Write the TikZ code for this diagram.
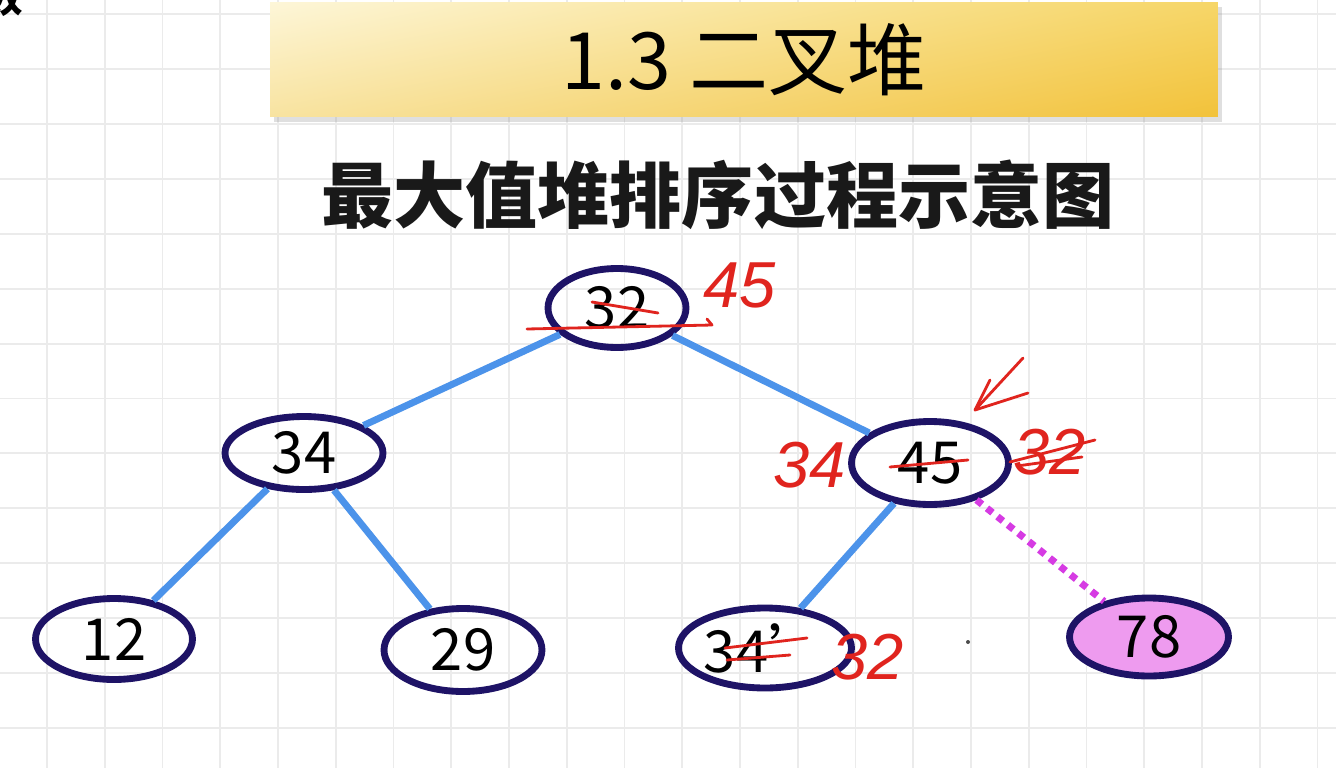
\documentclass[tikz,border=0pt]{standalone}
\usepackage{fontspec}
\setmainfont{Noto Sans CJK SC}
\newfontfamily\handfont{Liberation Sans}
\usetikzlibrary{shapes.geometric,shadows,shadings}
\definecolor{navy}{HTML}{1E1366}
\definecolor{edgeblue}{HTML}{4C93EA}
\definecolor{dotmag}{HTML}{D63BE3}
\definecolor{violetfill}{HTML}{EE9BEF}
\definecolor{gridc}{HTML}{EBEBEB}
\definecolor{handred}{HTML}{E0241E}
\definecolor{bUL}{HTML}{FDF6D8}
\definecolor{bUR}{HTML}{F6D668}
\definecolor{bLL}{HTML}{F8E3A0}
\definecolor{bLR}{HTML}{F2C23A}
\tikzset{
  heapnode/.style={ellipse, draw=navy, line width=3.9pt, inner sep=0pt,
    font=\fontsize{33}{38}\selectfont},
  edge/.style={edgeblue, line width=3.9pt},
  dotedge/.style={dotmag, line width=4pt, dash pattern=on 4pt off 3.6pt},
  handtext/.style={text=handred, font=\handfont\itshape\fontsize{37}{40}\selectfont, inner sep=0pt},
  handline/.style={handred, line width=1.6pt, line cap=round, line join=round},
  banner/.style={minimum width=18.96cm, minimum height=2.3cm, inner sep=0pt,
    upper left=bUL, upper right=bUR, lower left=bLL, lower right=bLR,
    drop shadow={opacity=0.25, shadow xshift=2.5pt, shadow yshift=-3pt},
    font=\fontsize{45}{50}\selectfont}
}
\begin{document}
\begin{tikzpicture}[x=0.02cm,y=-0.02cm]
\useasboundingbox (0,0) rectangle (1336,768);
\fill[white] (0,0) rectangle (1336,768);
% grid
\foreach \k in {0,...,22} \draw[gridc, line width=1.1pt] (47+57.75*\k,0) -- (47+57.75*\k,768);
\foreach \k in {0,...,13} \draw[gridc, line width=1.1pt] (0,14.2+54.9*\k) -- (1336,14.2+54.9*\k);
% corner fragment
\node[font=\bfseries\fontsize{23}{26}\selectfont, inner sep=0pt] (corner) at (3,-3) {数};
% banner
\node[banner, shade] (title) at (744,59.5) {1.3 二叉堆};
\node[font=\bfseries\fontsize{41}{45}\selectfont, text=black!90, inner sep=0pt] (sub) at (718,195) {最大值堆排序过程示意图};
% nodes
\node[heapnode, minimum width=2.76cm, minimum height=1.58cm] (n32) at (617,308) {32};
\node[heapnode, minimum width=3.16cm, minimum height=1.46cm] (n34) at (304,453) {34};
\node[heapnode, minimum width=3.14cm, minimum height=1.66cm] (n45) at (930,463) {45};
\node[heapnode, minimum width=3.14cm, minimum height=1.62cm] (n12) at (114,639) {12};
\node[heapnode, minimum width=3.16cm, minimum height=1.66cm] (n29) at (463,650) {29};
\node[heapnode, minimum width=2.94cm, minimum height=1.6cm] (n34b) at (765,648) {34’};
\node[heapnode, fill=violetfill, minimum width=3.18cm, minimum height=1.56cm] (n78) at (1149,637) {78};
% edges
\draw[edge] (n32) -- (n34);
\draw[edge] (n32) -- (n45);
\draw[edge] (n34) -- (n12);
\draw[edge] (n34) -- (n29);
\draw[edge] (n45) -- (n34b);
\draw[dotedge] (n45) -- (n78);
% handwritten annotations
\node[handtext] (h45) at (740,285) {45};
\draw[handline] (592,302) -- (658,313);
\draw[handline] (527,329) -- (712,325) -- (707,319);
\node[handtext] (h34) at (810,465) {34};
\draw[handline] (890,467) -- (968,460);
\node[handtext] (h32a) at (1050,452) {32};
\draw[handline] (1010,462) -- (1095,440);
\draw[handline] (1017,466) -- (1082,457);
\draw[handline] (1023,358) -- (975,410);
\draw[handline] (990,380) -- (975,410) -- (1028,393);
\draw[handline] (725,648) -- (807,638);
\draw[handline] (727,660) -- (790,655);
\node[handtext] (h32b) at (868,657) {32};
\fill[black!70] (968,642) circle (2);
\end{tikzpicture}
\end{document}
